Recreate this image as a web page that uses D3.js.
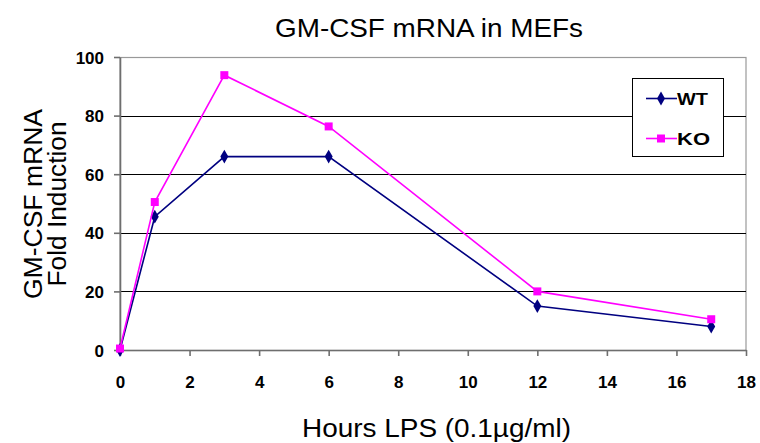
<!DOCTYPE html>
<html><head><meta charset="utf-8">
<script src="https://cdn.jsdelivr.net/npm/d3@7"></script>
<style>html,body{margin:0;padding:0;background:#fff;}</style>
</head><body>
<svg id="chart" width="760" height="443"></svg>
<script>
const hours = [0, 1, 3, 6, 12, 17];
const wtValues = [0, 45.5, 66, 66, 15, 8];
const koValues = [0.5, 50.5, 93.8, 76.3, 20, 10.5];
const seriesNames = ["WT", "KO"];
const xTicks = [0, 2, 4, 6, 8, 10, 12, 14, 16, 18];
const yTicks = [0, 20, 40, 60, 80, 100];

const svg = d3.select("#chart");
const m = {left: 120, right: 746, top: 57, bottom: 350};
const x = d3.scaleLinear().domain([0, 18]).range([m.left, m.right]);
const y = d3.scaleLinear().domain([0, 100]).range([m.bottom, m.top]);
const font = "'Liberation Sans', Arial, sans-serif";

// plot border (top/right)
svg.append("rect").attr("x", m.left).attr("y", m.top + 0.5)
  .attr("width", m.right - m.left).attr("height", m.bottom - m.top)
  .attr("fill", "none").attr("stroke", "#999").attr("stroke-width", 1.2);

// gridlines
svg.append("g").selectAll("line").data(yTicks.filter(d => d > 0 && d < 100)).join("line")
  .attr("x1", m.left).attr("x2", m.right)
  .attr("y1", d => Math.round(y(d)) + 0.5).attr("y2", d => Math.round(y(d)) + 0.5)
  .attr("stroke", "#000").attr("stroke-width", 1);

// axes
const xAxis = svg.append("g").attr("transform", `translate(0,${m.bottom})`)
  .call(d3.axisBottom(x).tickValues(xTicks).tickSize(6).tickSizeOuter(0));
const yAxis = svg.append("g").attr("transform", `translate(${m.left},0)`)
  .call(d3.axisLeft(y).tickValues(yTicks).tickSize(6).tickSizeOuter(0).tickPadding(10));
[xAxis, yAxis].forEach(a => {
  a.select(".domain").attr("stroke", "#6e6e6e").attr("stroke-width", 1.6);
  a.selectAll(".tick line").attr("stroke", "#6e6e6e").attr("stroke-width", 1.6);
  a.selectAll("text").attr("fill", "#000").style("font-family", font)
    .style("font-size", "17px").style("font-weight", "bold");
});
xAxis.selectAll("text").attr("y", 38).attr("dy", 0);
yAxis.selectAll("text").attr("dy", "0.36em");

// lines
const line = d3.line().x((d, i) => x(hours[i])).y(d => y(d));
const series = [
  {name: seriesNames[0], values: wtValues, color: "#000080", shape: d3.symbolDiamond},
  {name: seriesNames[1], values: koValues, color: "#ff00ff", shape: d3.symbolSquare}
];
const symSize = s => s.shape === d3.symbolSquare ? 64 : 55;
series.forEach(s => {
  svg.append("path").datum(s.values).attr("d", line)
    .attr("fill", "none").attr("stroke", s.color).attr("stroke-width", 1.6);
  svg.append("g").selectAll("path").data(s.values).join("path")
    .attr("transform", (d, i) => `translate(${x(hours[i])},${y(d)})`)
    .attr("d", d3.symbol().type(s.shape).size(symSize(s)))
    .attr("fill", s.color);
});

// legend
const lg = svg.append("g");
lg.append("rect").attr("x", 632.5).attr("y", 78.5).attr("width", 91).attr("height", 78)
  .attr("fill", "#fff").attr("stroke", "#000").attr("stroke-width", 1);
series.forEach((s, i) => {
  const ly = 98.5 + i * 40;
  lg.append("line").attr("x1", 646).attr("x2", 677).attr("y1", ly).attr("y2", ly)
    .attr("stroke", s.color).attr("stroke-width", 1.6);
  lg.append("path").attr("transform", `translate(661,${ly})`)
    .attr("d", d3.symbol().type(s.shape).size(symSize(s)))
    .attr("fill", s.color);
  lg.append("text").attr("x", 677).attr("y", ly + 6.5).text(s.name)
    .attr("textLength", i === 0 ? 31 : 33).attr("lengthAdjust", "spacingAndGlyphs")
    .style("font-family", font).style("font-size", "17px").style("font-weight", "bold");
});

// titles
svg.append("text").attr("x", 429).attr("y", 36.5).attr("text-anchor", "middle")
  .attr("textLength", 308).attr("lengthAdjust", "spacingAndGlyphs")
  .style("font-family", font).style("font-size", "25.5px").text("GM-CSF mRNA in MEFs");
svg.append("text").attr("x", 436.5).attr("y", 437).attr("text-anchor", "middle")
  .attr("textLength", 269).attr("lengthAdjust", "spacingAndGlyphs")
  .style("font-family", font).style("font-size", "26px").text("Hours LPS (0.1µg/ml)");
const yt = svg.append("g").attr("transform", "translate(0,204) rotate(-90)");
yt.append("text").attr("x", 0).attr("y", 42).attr("text-anchor", "middle")
  .attr("textLength", 190).attr("lengthAdjust", "spacingAndGlyphs")
  .style("font-family", font).style("font-size", "26px").text("GM-CSF mRNA");
yt.append("text").attr("x", 0).attr("y", 65.5).attr("text-anchor", "middle")
  .attr("textLength", 165).attr("lengthAdjust", "spacingAndGlyphs")
  .style("font-family", font).style("font-size", "26px").text("Fold Induction");
</script>
</body></html>
